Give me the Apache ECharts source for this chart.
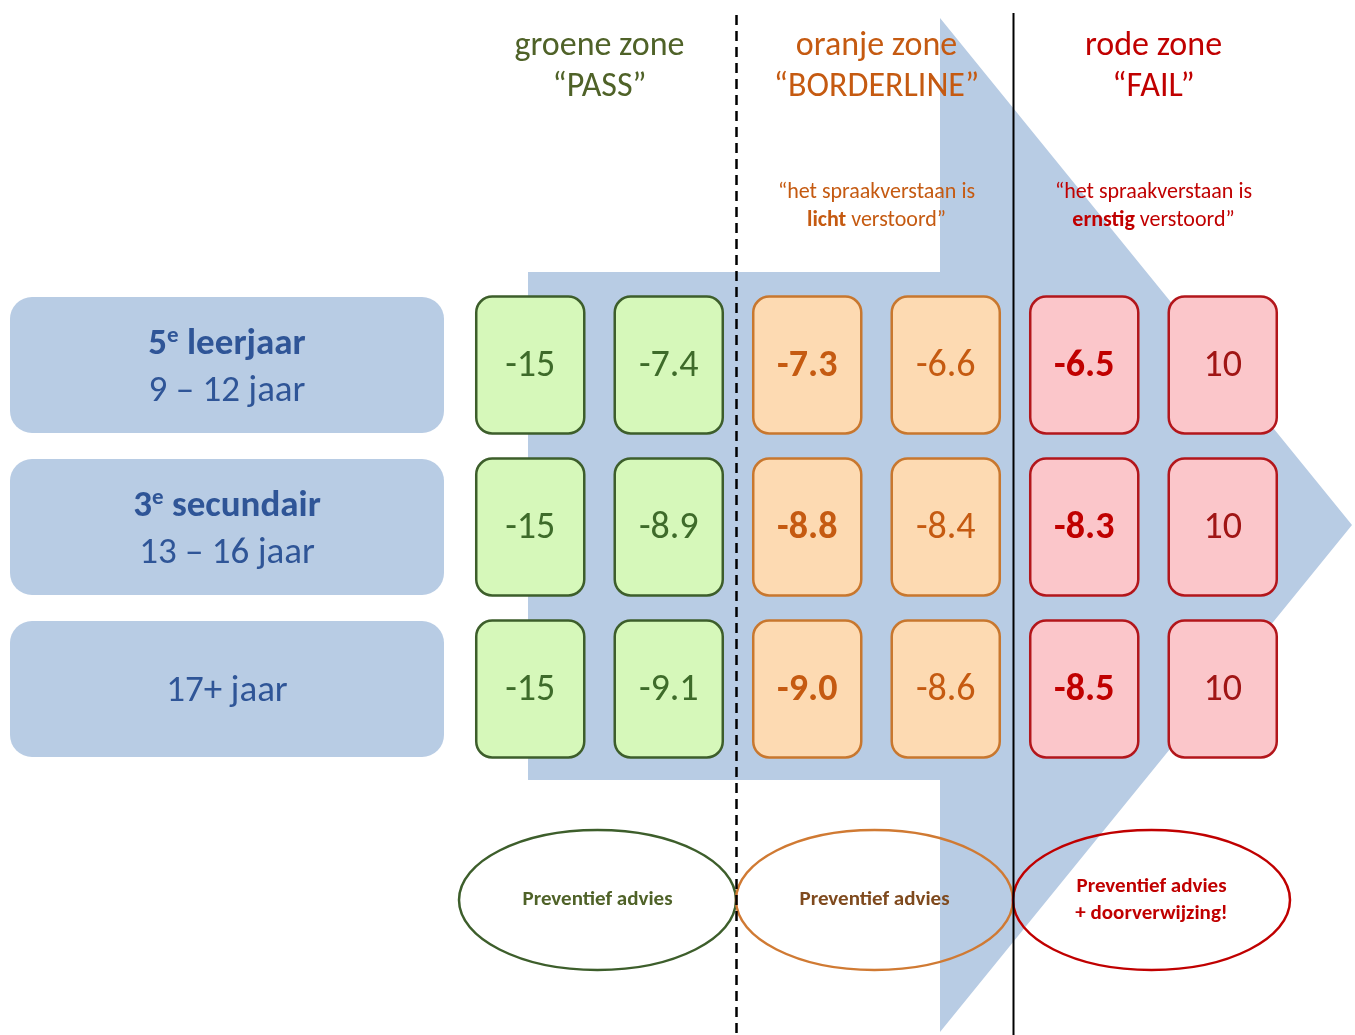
<!DOCTYPE html>
<html>
<head>
<meta charset="utf-8">
<script src="https://cdn.jsdelivr.net/npm/echarts@6/dist/echarts.min.js"></script>
<style>
html,body{margin:0;padding:0;background:#fff;}
#c{width:1355px;height:1035px;}
</style>
</head>
<body>
<div id="c"></div>
<script>
// ---- data ----
const columns = ['groen-min', 'groen-max', 'oranje-min', 'oranje-max', 'rood-min', 'rood-max'];
const rowOrdinals = ['5', '3', ''];
const rowTitles = ['leerjaar', 'secundair', ''];
const rowAges = ['9 – 12 jaar', '13 – 16 jaar', '17+ jaar'];
const valuesRow1 = [-15, -7.4, -7.3, -6.6, -6.5, 10];
const valuesRow2 = [-15, -8.9, -8.8, -8.4, -8.3, 10];
const valuesRow3 = [-15, -9.1, -9.0, -8.6, -8.5, 10];
const columnDecimals = [0, 1, 1, 1, 1, 0];
const zoneNames = ['groene zone', 'oranje zone', 'rode zone'];
const zoneVerdicts = ['“PASS”', '“BORDERLINE”', '“FAIL”'];
const zoneSeverity = ['', 'licht', 'ernstig'];
const zoneAdvice = ['Preventief advies', 'Preventief advies', 'Preventief advies\n+ doorverwijzing!'];

// ---- styles ----
const FONT = 'Carlito, Lato, "Open Sans", sans-serif';
const zoneStyle = [
  { head: '#4f6228', fill: '#d6f8ba', stroke: '#3d5e2b', text: '#3e6b2a', ell: '#3d5e2b', adv: '#4f6228' },
  { head: '#c55a11', fill: '#fddab2', stroke: '#c8772e', text: '#c55a11', ell: '#d07a33', adv: '#7f4a1e' },
  { head: '#c00000', fill: '#fbc6ca', stroke: '#b3161b', text: '#c00000', ell: '#c00000', adv: '#c00000' }
];
const boldColumns = [2, 4];

const allRows = [valuesRow1, valuesRow2, valuesRow3];
const cellData = [];
allRows.forEach((vals, r) => vals.forEach((v, c) => cellData.push([c, r, v])));

const chart = echarts.init(document.getElementById('c'));

function renderCell(params, api) {
  const col = api.value(0), row = api.value(1), v = api.value(2);
  const p = api.coord([col, row]);
  const s = api.size([1, 1]);
  const w = s[0] * 0.78, h = s[1] * 0.845;
  const z = zoneStyle[Math.floor(col / 2)];
  const bold = boldColumns.indexOf(col) >= 0;
  const colText = (col === 5) ? '#a01515' : z.text;
  return {
    type: 'group',
    children: [
      { type: 'rect', shape: { x: p[0] - w / 2, y: p[1] - h / 2, width: w, height: h, r: 16 },
        style: { fill: z.fill, stroke: z.stroke, lineWidth: 2.5 } },
      { type: 'text', style: { text: v.toFixed(columnDecimals[col]), x: p[0], y: p[1] + 1,
        align: 'center', verticalAlign: 'middle', fill: colText,
        fontSize: 38, fontWeight: bold ? 'bold' : 'normal', fontFamily: FONT } }
    ]
  };
}

function renderRowLabel(params, api) {
  const row = api.value(0);
  const p = api.coord([0, row]);
  const cy = p[1];
  const children = [
    { type: 'rect', shape: { x: 10, y: cy - 68, width: 434, height: 136, r: 22 },
      style: { fill: '#b8cce4' } }
  ];
  if (rowTitles[row]) {
    children.push({ type: 'text', style: {
      text: '{n|' + rowOrdinals[row] + '}{sup|e}{n| ' + rowTitles[row] + '}',
      x: 227, y: cy - 20, align: 'center', verticalAlign: 'middle',
      rich: {
        n: { fontSize: 37, fontWeight: 'bold', fill: '#2f5597', fontFamily: FONT, lineHeight: 40 },
        sup: { fontSize: 23, fontWeight: 'bold', fill: '#2f5597', fontFamily: FONT, lineHeight: 24, verticalAlign: 'top' }
      } } });
    children.push({ type: 'text', style: { text: rowAges[row], x: 227, y: cy + 27,
      align: 'center', verticalAlign: 'middle', fill: '#2f5597', fontSize: 37, fontFamily: FONT } });
  } else {
    children.push({ type: 'text', style: { text: rowAges[row], x: 227, y: cy + 3,
      align: 'center', verticalAlign: 'middle', fill: '#2f5597', fontSize: 37, fontFamily: FONT } });
  }
  return { type: 'group', children };
}

function renderZone(params, api) {
  const zi = api.value(0);
  const a = api.coord([zi * 2, 0]);
  const b = api.coord([zi * 2 + 1, 0]);
  const s = api.size([1, 1]);
  const cx = (a[0] + b[0]) / 2;
  const z = zoneStyle[zi];
  const children = [
    { type: 'text', style: { text: zoneNames[zi] + '\n' + zoneVerdicts[zi], x: cx, y: 67,
      align: 'center', verticalAlign: 'middle', fill: z.head, fontSize: 34, lineHeight: 41, fontFamily: FONT } },
    { type: 'ellipse', shape: { cx: cx - 2, cy: 900, rx: s[0] * 1.0, ry: 70 },
      style: { fill: 'none', stroke: z.ell, lineWidth: 2.5 } },
    { type: 'text', style: { text: zoneAdvice[zi], x: cx - 2, y: 900, align: 'center', verticalAlign: 'middle',
      fill: z.adv, fontSize: 21, fontWeight: 'bold', lineHeight: 27, fontFamily: FONT } }
  ];
  if (zoneSeverity[zi]) {
    children.push({ type: 'text', style: {
      text: '{n|“het spraakverstaan is}\n{b|' + zoneSeverity[zi] + '}{n| verstoord”}',
      x: cx, y: 206, align: 'center', verticalAlign: 'middle',
      rich: {
        n: { fontSize: 22, fill: z.head, fontFamily: FONT, lineHeight: 28 },
        b: { fontSize: 22, fill: z.head, fontFamily: FONT, fontWeight: 'bold', lineHeight: 28 }
      } } });
  }
  if (zi > 0) {
    const lx = a[0] - s[0] / 2 - 1.5;
    children.push({ type: 'line', shape: { x1: lx, y1: zi === 1 ? 15 : 13, x2: lx, y2: 1035 },
      style: { stroke: '#000', lineWidth: zi === 1 ? 2.5 : 2, lineDash: zi === 1 ? [10, 6] : null } });
  }
  return { type: 'group', children };
}

chart.setOption({
  animation: false,
  backgroundColor: '#ffffff',
  grid: { left: 461, right: 63, top: 284, bottom: 265 },
  xAxis: { type: 'category', data: columns, show: false },
  yAxis: { type: 'category', data: rowAges, inverse: true, show: false },
  graphic: [
    { type: 'polygon', z: 0,
      shape: { points: [[528, 272], [940, 272], [940, 18], [1352, 525], [940, 1032], [940, 780], [528, 780]] },
      style: { fill: '#b8cce4' } }
  ],
  series: [
    { type: 'custom', name: 'zones', data: zoneNames.map((n, i) => [i]), renderItem: renderZone, z: 1, silent: true },
    { type: 'custom', name: 'rows', data: rowAges.map((n, i) => [i]), renderItem: renderRowLabel, z: 2, silent: true },
    { type: 'custom', name: 'cells', data: cellData, encode: { x: 0, y: 1 }, renderItem: renderCell, z: 3, silent: true }
  ]
});
</script>
</body>
</html>
